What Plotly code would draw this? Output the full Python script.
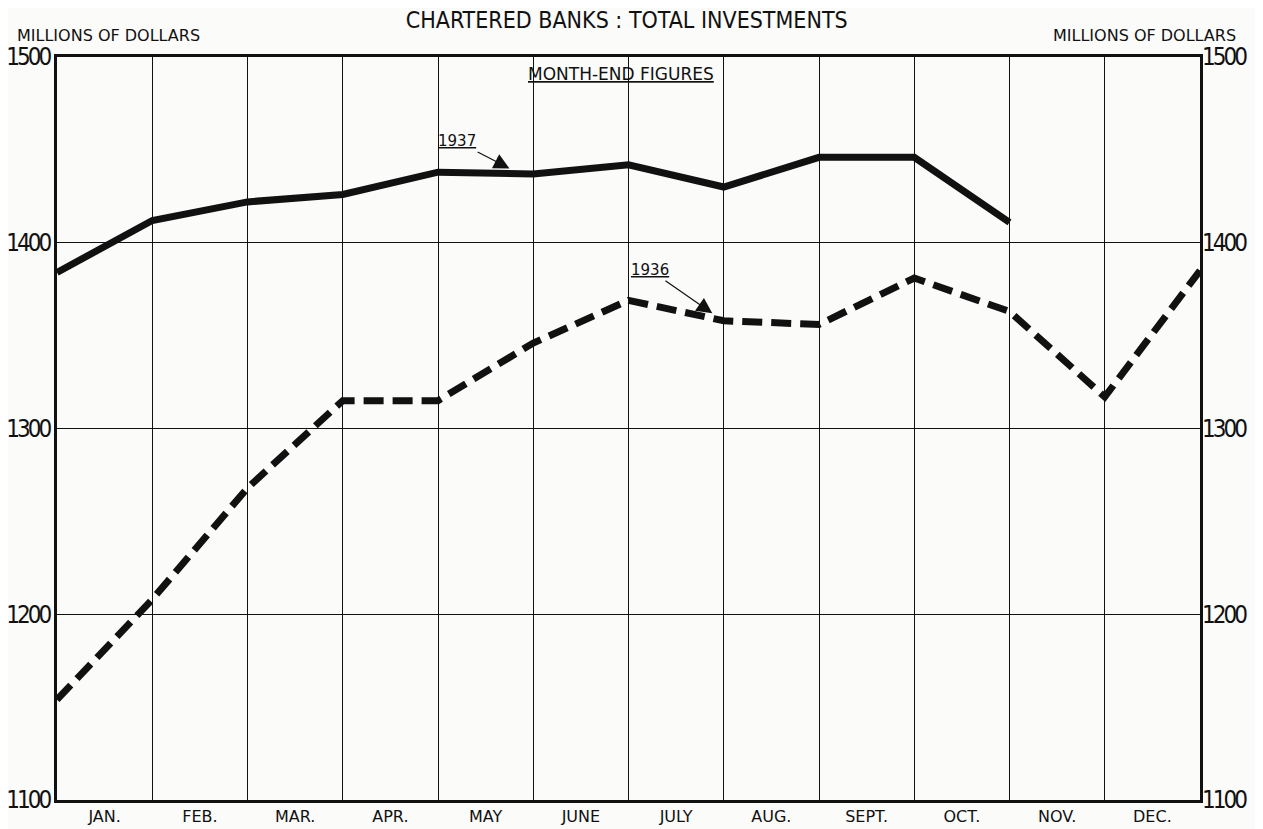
import plotly.graph_objects as go

# month-end positions: 0 = end of previous December, 12 = end of December
months = ["JAN.", "FEB.", "MAR.", "APR.", "MAY", "JUNE", "JULY", "AUG.", "SEPT.", "OCT.", "NOV.", "DEC."]
pos_1937 = [0, 1, 2, 3, 4, 5, 6, 7, 8, 9, 10]
inv_1937 = [1384, 1412, 1422, 1426, 1438, 1437, 1442, 1430, 1446, 1446, 1411]
pos_1936 = [0, 1, 2, 3, 4, 5, 6, 7, 8, 9, 10, 11, 12]
inv_1936 = [1154, 1208, 1268, 1315, 1315, 1346, 1369, 1358, 1356, 1381, 1363, 1317, 1385]
y_ticks = [1100, 1200, 1300, 1400, 1500]

NUM_FONT = "DejaVu Sans Condensed, sans-serif"
TXT_FONT = "DejaVu Sans, sans-serif"
INK = "#111111"

# tight, narrow numerals like the hand lettering
y_text = [f'<span style="letter-spacing:-3px">{v}</span>' for v in y_ticks]

fig = go.Figure()
fig.add_trace(go.Scatter(x=pos_1936, y=inv_1936, mode="lines", name="1936",
                         line=dict(color=INK, width=7, dash="20px,9px")))
fig.add_trace(go.Scatter(x=pos_1937, y=inv_1937, mode="lines", name="1937",
                         line=dict(color=INK, width=7)))
# invisible copy so the right-hand axis is drawn
fig.add_trace(go.Scatter(x=pos_1936, y=inv_1936, mode="lines", yaxis="y2", showlegend=False,
                         hoverinfo="skip", line=dict(color="rgba(0,0,0,0)", width=0)))

# the page puts the figure 8px in from the top-left corner
fig.update_layout(
    width=1255, height=821,
    paper_bgcolor="#fbfbfa", plot_bgcolor="#fbfbfa",
    margin=dict(l=49, r=63, t=49, b=29),
    showlegend=False,
    title=dict(text="CHARTERED BANKS : TOTAL INVESTMENTS", x=0.493, xanchor="center",
               y=0.985, yanchor="middle", font=dict(family="DejaVu Sans Condensed, sans-serif", size=23, color=INK)),
    xaxis=dict(range=[0, 12], tickvals=[i + 0.5 for i in range(12)], ticktext=months,
               showgrid=False, ticks="", tickfont=dict(family=TXT_FONT, size=16, color=INK),
               showline=True, linecolor=INK, linewidth=3, mirror=True, zeroline=False, automargin=False,
               minor=dict(tick0=0, dtick=1, showgrid=True, gridcolor=INK, gridwidth=1, ticks="")),
    yaxis=dict(range=[1100, 1500], tickvals=y_ticks, ticktext=y_text, showgrid=True, gridcolor=INK,
               gridwidth=1, ticks="", tickfont=dict(family=NUM_FONT, size=24, color=INK), zeroline=False,
               showline=True, linecolor=INK, linewidth=3, mirror=True, automargin=False,
               ticklabelstandoff=0),
    yaxis2=dict(range=[1100, 1500], tickvals=y_ticks, ticktext=y_text, overlaying="y", side="right",
                showgrid=False, ticks="", tickfont=dict(family=NUM_FONT, size=24, color=INK),
                zeroline=False, automargin=False, ticklabelstandoff=1),
)

fig.add_annotation(text="MILLIONS OF DOLLARS", xref="paper", yref="paper", x=-0.037, y=1.0,
                   xanchor="left", yanchor="bottom", yshift=10, showarrow=False,
                   font=dict(family=TXT_FONT, size=16, color=INK))
fig.add_annotation(text="MILLIONS OF DOLLARS", xref="paper", yref="paper", x=1.033, y=1.0,
                   xanchor="right", yanchor="bottom", yshift=10, showarrow=False,
                   font=dict(family=TXT_FONT, size=16, color=INK))
fig.add_annotation(text="<u>MONTH-END FIGURES</u>", xref="x", yref="paper", x=5.92, y=0.993,
                   xanchor="center", yanchor="top", showarrow=False,
                   font=dict(family=TXT_FONT, size=17, color=INK))
fig.add_annotation(text="<u>1937</u>", x=4.75, y=1440, ax=-52, ay=-27,
                   showarrow=True, arrowhead=2, arrowsize=2.6, arrowwidth=1.2, arrowcolor=INK,
                   font=dict(family=TXT_FONT, size=15, color=INK))
fig.add_annotation(text="<u>1936</u>", x=6.88, y=1362, ax=-62, ay=-43,
                   showarrow=True, arrowhead=2, arrowsize=2.6, arrowwidth=1.2, arrowcolor=INK,
                   font=dict(family=TXT_FONT, size=15, color=INK))

fig.write_html("out.html")
